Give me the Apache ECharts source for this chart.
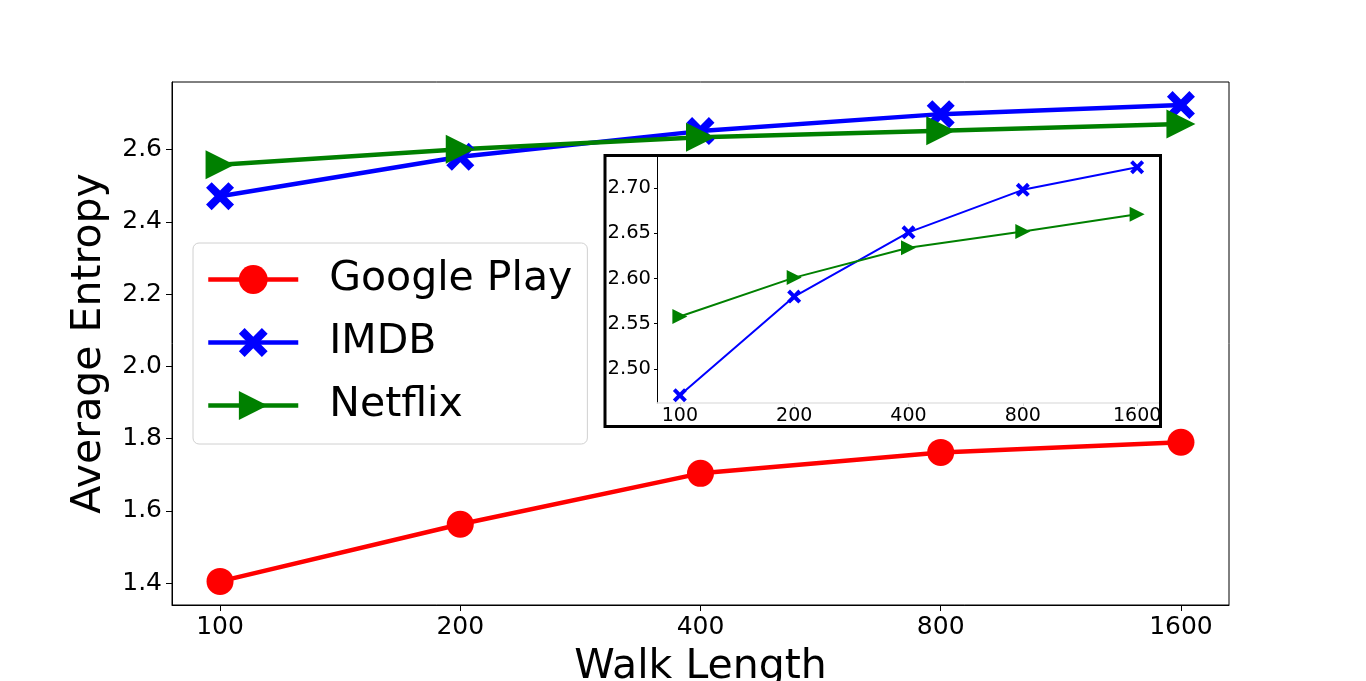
<!DOCTYPE html>
<html>
<head>
<meta charset="utf-8">
<script src="https://cdn.jsdelivr.net/npm/echarts@6/dist/echarts.min.js"></script>
<style>
html,body{margin:0;padding:0;background:#fff;}
#chart{width:1366px;height:681px;}
</style>
</head>
<body>
<div id="chart"></div>
<script>
const categories = ['100', '200', '400', '800', '1600'];
const googlePlay = [1.405, 1.563, 1.704, 1.762, 1.790];
const imdb = [2.471, 2.580, 2.651, 2.698, 2.723];
const netflix = [2.558, 2.601, 2.634, 2.652, 2.671];
const mainYTicks = [1.4, 1.6, 1.8, 2.0, 2.2, 2.4, 2.6];
const insetYTicks = [2.50, 2.55, 2.60, 2.65, 2.70];
const xTickIdx = categories.map((c, i) => i);

const FONT = 'DejaVu Sans';
const xSym = 'path://M2,0L5,3L8,0L10,2L7,5L10,8L8,10L5,7L2,10L0,8L3,5L0,2Z';
const triSym = 'path://M0,0L10,5L0,10Z';
const toXY = arr => arr.map((v, i) => [i, v]);

const chart = echarts.init(document.getElementById('chart'), null, {renderer: 'canvas'});

const mainSeries = (name, data, color, symbol, size) => ({
  name, type: 'line', xAxisIndex: 0, yAxisIndex: 0, data: toXY(data),
  symbol, symbolSize: size, showSymbol: true, z: 2,
  lineStyle: {color, width: 4.5}, itemStyle: {color, borderWidth: 0},
  emphasis: {disabled: true}, animation: false
});
const insetSeries = (name, data, color, symbol, size) => ({
  name, type: 'line', xAxisIndex: 1, yAxisIndex: 1, data: toXY(data),
  symbol, symbolSize: size, showSymbol: true, z: 10,
  lineStyle: {color, width: 2}, itemStyle: {color, borderWidth: 0},
  emphasis: {disabled: true}, animation: false
});

const option = {
  backgroundColor: '#fff',
  animation: false,
  grid: [
    {left: 172, top: 82, width: 1057, height: 523, show: true, borderColor: '#000', borderWidth: 1,
      backgroundColor: 'transparent', containLabel: false, outerBoundsMode: 'none'},
    {left: 657, top: 157, width: 503, height: 246, show: false, containLabel: false, outerBoundsMode: 'none'}
  ],
  legend: {
    orient: 'vertical', left: 193, top: 243,
    padding: [16, 15, 18, 13],
    itemWidth: 90, itemHeight: 36, itemGap: 22,
    backgroundColor: 'rgba(255,255,255,0.8)', borderColor: '#d0d0d0', borderWidth: 1, borderRadius: 6,
    lineStyle: {width: 4.5},
    textStyle: {fontFamily: FONT, fontSize: 41, color: '#000', lineHeight: 41, padding: [0, 0, 0, 26]},
    data: ['Google Play', 'IMDB', 'Netflix'],
    selectedMode: false
  },
  xAxis: [
    {
      type: 'value', gridIndex: 0, min: -0.2, max: 4.2,
      name: 'Walk Length', nameLocation: 'middle', nameGap: 42,
      nameTextStyle: {fontFamily: FONT, fontSize: 41, color: '#000'},
      axisLine: {show: true, onZero: false, lineStyle: {color: '#000', width: 1}},
      axisTick: {show: true, length: 6, lineStyle: {color: '#000'}, customValues: xTickIdx},
      axisLabel: {show: true, margin: 10, fontFamily: FONT, fontSize: 25, color: '#000',
        customValues: xTickIdx, formatter: v => categories[Math.round(v)]},
      splitLine: {show: false}
    },
    {
      type: 'value', gridIndex: 1, min: -0.2, max: 4.2, z: 10,
      axisLine: {show: true, onZero: false, lineStyle: {color: '#e3e3e3', width: 1.5}},
      axisTick: {show: true, length: 3, lineStyle: {color: '#dddddd'}, customValues: xTickIdx},
      axisLabel: {show: true, margin: 4, fontFamily: FONT, fontSize: 19, color: '#000',
        customValues: xTickIdx, formatter: v => categories[Math.round(v)]},
      splitLine: {show: false}
    }
  ],
  yAxis: [
    {
      type: 'value', gridIndex: 0, min: 1.3397, max: 2.7869,
      name: 'Average Entropy', nameLocation: 'middle', nameGap: 62,
      nameTextStyle: {fontFamily: FONT, fontSize: 41, color: '#000'},
      axisLine: {show: true, onZero: false, lineStyle: {color: '#000', width: 1}},
      axisTick: {show: true, length: 6, lineStyle: {color: '#000'}, customValues: mainYTicks},
      axisLabel: {show: true, margin: 10, fontFamily: FONT, fontSize: 25, color: '#000',
        customValues: mainYTicks, formatter: v => v.toFixed(1)},
      splitLine: {show: false}
    },
    {
      type: 'value', gridIndex: 1, min: 2.4624, max: 2.7343, z: 10,
      axisLine: {show: true, onZero: false, lineStyle: {color: '#000', width: 1}},
      axisTick: {show: true, length: 3, lineStyle: {color: '#000'}, customValues: insetYTicks},
      axisLabel: {show: true, margin: 6, fontFamily: FONT, fontSize: 19.5, color: '#000',
        customValues: insetYTicks, formatter: v => v.toFixed(2)},
      splitLine: {show: false}
    }
  ],
  graphic: [
    {type: 'rect', z: 3, silent: true, shape: {x: 605, y: 155.5, width: 555.5, height: 271},
      style: {fill: '#fff', stroke: null}},
    {type: 'rect', z: 50, silent: true, shape: {x: 605, y: 155.5, width: 555.5, height: 271},
      style: {fill: 'none', stroke: '#000', lineWidth: 3}}
  ],
  series: [
    mainSeries('Google Play', googlePlay, '#ff0000', 'circle', 27),
    mainSeries('IMDB', imdb, '#0000ff', xSym, 28),
    mainSeries('Netflix', netflix, '#008000', triSym, 29),
    insetSeries('IMDB', imdb, '#0000ff', xSym, 14),
    insetSeries('Netflix', netflix, '#008000', triSym, 15)
  ]
};
chart.setOption(option);
</script>
</body>
</html>
